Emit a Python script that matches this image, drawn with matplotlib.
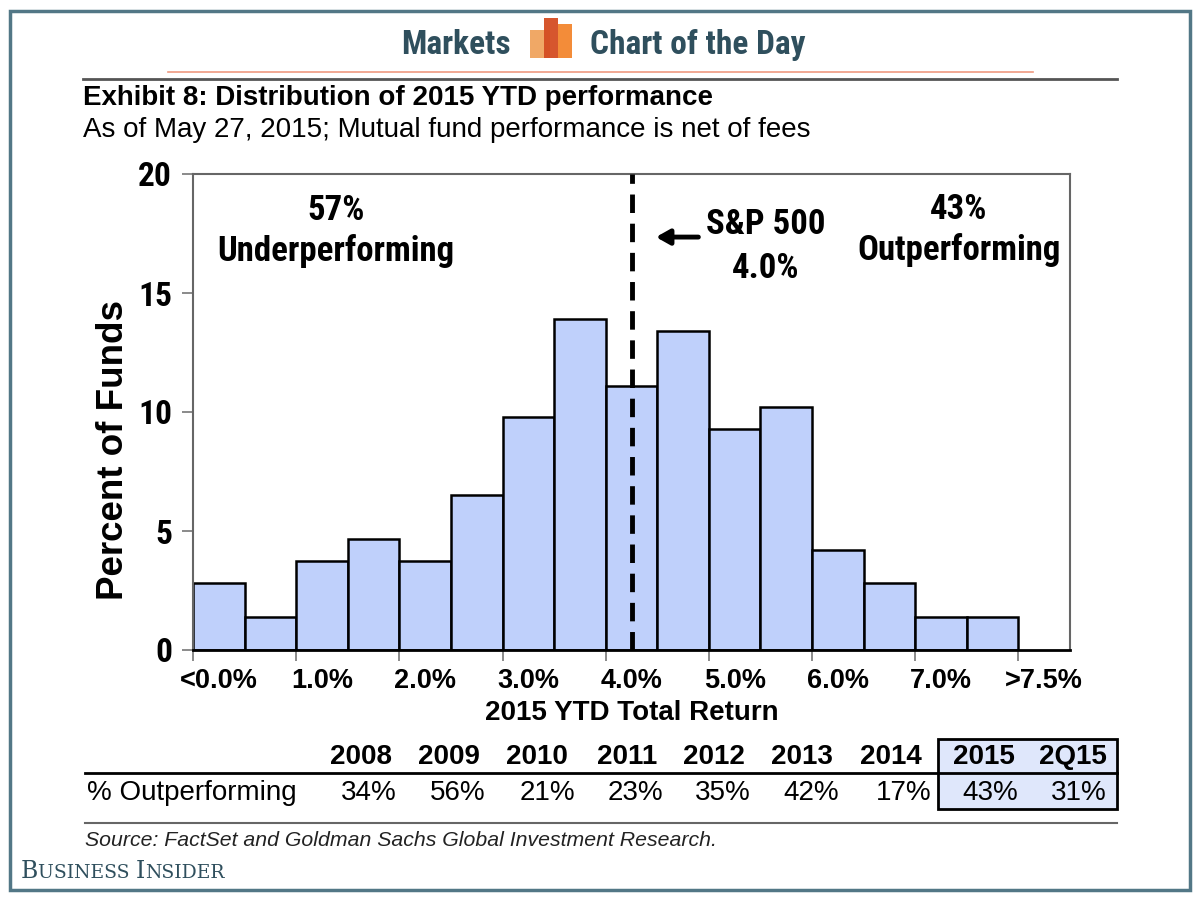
import matplotlib
matplotlib.use("Agg")
import matplotlib.pyplot as plt
from matplotlib import font_manager
from matplotlib.patches import Rectangle
from matplotlib.lines import Line2D

# -------------------- DATA --------------------
bin_labels = ["<0.0%", "1.0%", "2.0%", "3.0%", "4.0%", "5.0%", "6.0%", "7.0%", ">7.5%"]
pct_funds = [2.8, 1.4, 3.75, 4.65, 3.75, 6.5, 9.8, 13.9, 11.1, 13.4, 9.3, 10.2, 4.2, 2.8, 1.4, 1.4]
sp500_bin = 8          # bar index of the 4.0% bin (S&P 500 return)

years = ["2008", "2009", "2010", "2011", "2012", "2013", "2014", "2015", "2Q15"]
outperforming = ["34%", "56%", "21%", "23%", "35%", "42%", "17%", "43%", "31%"]

# -------------------- FONTS --------------------
installed = {f.name for f in font_manager.fontManager.ttflist}
ARIAL = ["Liberation Sans", "DejaVu Sans"]
SERIF = ["DejaVu Serif", "Liberation Serif"]
if "Liberation Sans Narrow" in installed:
    NARROW, narrow_scale = ["Liberation Sans Narrow", "DejaVu Sans"], 1.0
elif "Roboto Condensed" in installed:
    NARROW, narrow_scale = ["Roboto Condensed", "DejaVu Sans"], 1.0
else:
    NARROW, narrow_scale = ARIAL, 0.82
HEAD = ["Roboto Condensed", "DejaVu Sans"] if "Roboto Condensed" in installed else ["Roboto", "DejaVu Sans"]
head_size = 24 if "Roboto Condensed" in installed else 22

SLATE = "#2f4f5d"
BAR = "#bfd0fb"

W, H = 1200, 900
fig = plt.figure(figsize=(12, 9), dpi=100)


def fx(px):
    return px / W


def fy(py):
    return 1 - py / H


# outer frame
fig.patches.append(Rectangle((fx(10), fy(890)), fx(1180), (890 - 11) / H, transform=fig.transFigure,
                             fill=False, edgecolor="#527786", linewidth=2.5))

# -------------------- HEADER --------------------
fig.text(fx(511), fy(45), "Markets", ha="right", va="center", fontsize=head_size, fontweight="bold",
         color=SLATE, family=HEAD)
fig.text(fx(590), fy(45), "Chart of the Day", ha="left", va="center", fontsize=head_size,
         fontweight="bold", color=SLATE, family=HEAD)
for x0, x1, y0, c in [(530, 550, 30, "#f0a35e"), (544, 558, 18, "#d44d22"), (558, 572, 24, "#f3862e")]:
    fig.patches.append(Rectangle((fx(x0), fy(58)), fx(x1 - x0), (58 - y0) / H,
                                 transform=fig.transFigure, facecolor=c, edgecolor="none", alpha=0.95))
fig.lines.append(Line2D([fx(168), fx(1033)], [fy(72), fy(72)], transform=fig.transFigure,
                        color="#ef9a80", linewidth=1.2))
fig.lines.append(Line2D([fx(83), fx(1117)], [fy(79), fy(79)], transform=fig.transFigure,
                        color="#555555", linewidth=2))

fig.text(fx(83), fy(98), "Exhibit 8: Distribution of 2015 YTD performance", ha="left", va="center",
         fontsize=20, fontweight="bold", family=ARIAL)
fig.text(fx(83), fy(130), "As of May 27, 2015; Mutual fund performance is net of fees", ha="left",
         va="center", fontsize=20, family=ARIAL)

# -------------------- HISTOGRAM --------------------
ax = fig.add_axes([fx(193), fy(650), fx(1070 - 193), (650 - 174) / H])
x = list(range(len(pct_funds)))
ax.bar(x, pct_funds, width=1.0, color=BAR, edgecolor="black", linewidth=1.8, zorder=2)
ax.axvline(sp500_bin, color="black", linewidth=3.5, linestyle=(0, (3.8, 2.2)), zorder=3)

ax.set_xlim(-0.5, 16.5)
ax.set_ylim(0, 20)
ax.set_yticks([0, 5, 10, 15, 20])
ax.set_yticklabels(["0", "5", "10", "15", "20"], fontsize=24 * (0.92 if narrow_scale < 1 else 1),
                   fontweight="bold", family=NARROW)
ax.set_xticks([i - 0.5 for i in range(0, 17, 2)])
ax.set_xticklabels([])
ax.set_xticks(list(range(0, 17, 2)), minor=True)
ax.set_xticklabels(bin_labels, minor=True, fontsize=19.5, fontweight="bold", family=ARIAL)
ax.tick_params(axis="x", which="major", length=8, width=1.2, color="#777777", direction="out")
ax.tick_params(axis="x", which="minor", length=0, pad=13)
ax.tick_params(axis="y", length=8, width=1.2, color="#777777", direction="out", pad=7)

for s in ["left", "top", "right"]:
    ax.spines[s].set_color("#666666")
    ax.spines[s].set_linewidth(1.5)
ax.spines["bottom"].set_color("black")
ax.spines["bottom"].set_linewidth(2)

ax.set_ylabel("Percent of Funds", fontsize=26.5, fontweight="bold", family=ARIAL)
ax.yaxis.set_label_coords(-0.071, 0.42)
ax.set_xlabel("2015 YTD Total Return", fontsize=20, fontweight="bold", family=ARIAL)
ax.xaxis.set_label_coords(0.5, -0.104)

note_size = 25 * narrow_scale
ax.text(2.27, 17.6, "57%\nUnderperforming", ha="center", va="center", fontsize=note_size,
        fontweight="bold", family=NARROW, linespacing=1.25)
ax.text(10.6, 16.95, "S&P 500\n4.0%", ha="center", va="center", fontsize=note_size,
        fontweight="bold", family=NARROW, linespacing=1.4)
ax.text(14.34, 17.65, "43%\nOutperforming", ha="center", va="center", fontsize=note_size,
        fontweight="bold", family=NARROW, linespacing=1.25)
ax.annotate("", xy=(8.42, 17.35), xytext=(9.35, 17.35),
            arrowprops=dict(arrowstyle="-|>,head_length=0.8,head_width=0.45", color="black", lw=3.5))

# -------------------- TABLE --------------------
head_right = [392, 480, 568, 657, 745, 833, 922, 1015, 1107]
val_right = [397, 485, 575, 663, 751, 839, 931, 1018, 1107]
fig.patches.append(Rectangle((fx(938), fy(809)), fx(1117 - 938), (809 - 739) / H,
                             transform=fig.transFigure, facecolor="#dfe7fb", edgecolor="black",
                             linewidth=2))
fig.lines.append(Line2D([fx(85), fx(1117)], [fy(773), fy(773)], transform=fig.transFigure,
                        color="black", linewidth=2))
fig.lines.append(Line2D([fx(85), fx(1117)], [fy(823), fy(823)], transform=fig.transFigure,
                        color="#666666", linewidth=1.5))
for hr, vr, yr, pc in zip(head_right, val_right, years, outperforming):
    fig.text(fx(hr), fy(757), yr, ha="right", va="center", fontsize=20, fontweight="bold", family=ARIAL)
    fig.text(fx(vr), fy(793), pc, ha="right", va="center", fontsize=20, family=ARIAL)
fig.text(fx(87), fy(793), "% Outperforming", ha="left", va="center", fontsize=20, family=ARIAL)

fig.text(fx(85), fy(840), "Source: FactSet and Goldman Sachs Global Investment Research.",
         ha="left", va="center", fontsize=15.3, style="italic", color="#222222", family=ARIAL)

# -------------------- BRAND --------------------
renderer = fig.canvas.get_renderer()
x_px = 21
for part, size in [("B", 17), ("USINESS ", 13.5), ("I", 17), ("NSIDER", 13.5)]:
    t = fig.text(fx(x_px), fy(878), part, ha="left", va="baseline", fontsize=size,
                 color=SLATE, family=SERIF)
    x_px = t.get_window_extent(renderer).x1

plt.savefig("out.png", dpi=100)
